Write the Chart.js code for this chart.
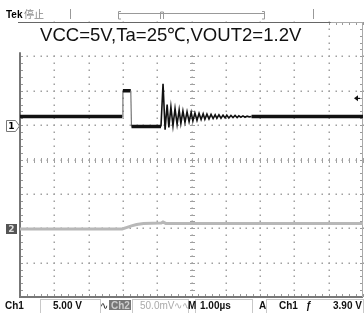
<!DOCTYPE html>
<html><head><meta charset="utf-8">
<script src="https://cdn.jsdelivr.net/npm/chart.js@4/dist/chart.umd.min.js"></script>
<style>html,body{margin:0;padding:0;background:#fff;}canvas{display:block;}</style>
</head><body>
<canvas id="c" width="364" height="313"></canvas>
<script>
// Time axis in µs (1 µs/div), vertical in screen divisions
const titleText = "VCC=5V,Ta=25\u2103,VOUT2=1.2V";
const ch1Time = [0, 2.98, 3.00, 3.23, 3.25, 4.11, 4.17, 4.23, 4.29, 4.34, 4.40, 4.46, 4.52, 4.58, 4.64, 4.69, 4.75, 4.81, 4.87, 4.93, 4.99, 5.04, 5.10, 5.16, 5.22, 5.28, 5.34, 5.39, 5.45, 5.51, 5.57, 5.63, 5.69, 5.74, 5.80, 5.86, 5.92, 5.98, 6.03, 6.09, 6.15, 6.21, 6.27, 6.33, 6.38, 6.44, 6.50, 6.56, 6.62, 6.68, 6.75, 10];
const ch1Div  = [1.25, 1.25, 2.00, 2.00, 0.96, 0.96, 2.20, 0.87, 1.60, 0.93, 1.53, 0.98, 1.48, 1.02, 1.44, 1.05, 1.41, 1.08, 1.39, 1.10, 1.37, 1.12, 1.35, 1.14, 1.34, 1.16, 1.33, 1.17, 1.32, 1.18, 1.31, 1.19, 1.30, 1.20, 1.30, 1.20, 1.29, 1.21, 1.29, 1.21, 1.28, 1.22, 1.28, 1.22, 1.27, 1.23, 1.27, 1.23, 1.26, 1.24, 1.25, 1.25];
const ch2Time = [0, 2.98, 3.10, 3.25, 3.40, 3.60, 4.12, 4.17, 4.25, 4.40, 10];
const ch2Div  = [-2.02, -2.02, -1.98, -1.93, -1.89, -1.86, -1.85, -1.82, -1.86, -1.86, -1.86];
const ch1Ground = 1;      // divisions
const ch2Ground = -2;     // divisions
const trigLevelDiv = 1.78; // 3.90 V on Ch1 (5 V/div)
const xDivs = [0,1,2,3,4,5,6,7,8,9,10];
const yDivs = [-4,-3,-2,-1,0,1,2,3,4];
const statusLabels = ["Tek", "\u505C\u6B62"];
const bottomLabels = ["Ch1", "5.00 V", "\u223F", "Ch2", "50.0mV\u223F\u223F", "M", "1.00\u00B5s", "A", "Ch1", "\u0192", "3.90 V"];

const pts = (xs, ys) => xs.map((x, i) => ({x, y: ys[i]}));

const scope = {
  id: 'scope',
  beforeDatasetsDraw(chart) {
    const ctx = chart.ctx, xs = chart.scales.x, ys = chart.scales.y, a = chart.chartArea;
    ctx.save();
    const X = v => xs.getPixelForValue(v), Y = v => ys.getPixelForValue(v);
    ctx.fillStyle = '#a0a0a0';
    for (const i of xDivs.slice(1, -1)) {
      for (let k = -40; k <= 40; k += 2) {
        ctx.fillRect(Math.round(X(i)) - 0.5, Math.round(Y(k / 10)) - 0.5, 1.5, 1.5);
      }
    }
    for (const j of yDivs.slice(1, -1)) {
      for (let k = 0; k <= 100; k += 2) {
        ctx.fillRect(Math.round(X(k / 10)) - 0.5, Math.round(Y(j)) - 0.5, 1.5, 1.5);
      }
    }
    ctx.strokeStyle = '#a0a0a0'; ctx.lineWidth = 1;
    ctx.beginPath();
    for (let k = 0; k <= 100; k += 2) {
      const px = Math.round(X(k / 10)) + 0.5, py = Math.round(Y(0));
      ctx.moveTo(px, py - 2); ctx.lineTo(px, py + 3);
    }
    for (let k = -40; k <= 40; k += 2) {
      const px = Math.round(X(5)), py = Math.round(Y(k / 10)) + 0.5;
      ctx.moveTo(px - 2, py); ctx.lineTo(px + 3, py);
    }
    ctx.stroke();
    ctx.strokeStyle = '#999';
    ctx.beginPath();
    for (let k = 0; k <= 100; k += 2) {
      const px = Math.round(X(k / 10)) + 0.5;
      ctx.moveTo(px, a.bottom); ctx.lineTo(px, a.bottom - 3);
      ctx.moveTo(px, a.top); ctx.lineTo(px, a.top + 3);
    }
    for (let k = -40; k <= 40; k += 2) {
      const py = Math.round(Y(k / 10)) + 0.5;
      ctx.moveTo(a.left, py); ctx.lineTo(a.left + 3, py);
      ctx.moveTo(a.right, py); ctx.lineTo(a.right - 3, py);
    }
    ctx.stroke();
    ctx.strokeStyle = '#777'; ctx.lineWidth = 2;
    ctx.beginPath();
    ctx.moveTo(a.left, a.top); ctx.lineTo(a.left, a.bottom);
    ctx.moveTo(a.left - 1, a.bottom); ctx.lineTo(a.right, a.bottom);
    ctx.stroke();
    ctx.strokeStyle = '#aaa'; ctx.lineWidth = 1;
    ctx.beginPath();
    ctx.moveTo(a.right - 0.5, a.top); ctx.lineTo(a.right - 0.5, a.bottom);
    ctx.moveTo(a.left, a.top + 0.5); ctx.lineTo(a.right, a.top + 0.5);
    ctx.stroke();
    ctx.fillStyle = '#fff';
    const bx = a.left - 2, by = a.top + 1;
    ctx.fillRect(bx, by, X(8.95) - bx, Y(3.12) - by);
    ctx.strokeStyle = '#666'; ctx.lineWidth = 1;
    ctx.beginPath(); ctx.moveTo(a.left - 2, a.top + 0.5); ctx.lineTo(X(9) + 2, a.top + 0.5); ctx.stroke();
    ctx.restore();
  },
  afterDraw(chart) {
    const ctx = chart.ctx, ys = chart.scales.y;
    const Y = v => ys.getPixelForValue(v);
    ctx.save();
    let fs = 17;
    ctx.font = fs + 'px "Liberation Sans", Arial, sans-serif';
    const w = ctx.measureText(titleText).width;
    fs = fs * 262 / w;
    ctx.font = fs.toFixed(2) + 'px "Liberation Sans", Arial, sans-serif';
    ctx.fillStyle = '#111'; ctx.textBaseline = 'alphabetic';
    ctx.fillText(titleText, 40, 41);
    ctx.font = 'bold 10px "Liberation Sans", Arial, sans-serif';
    ctx.fillStyle = '#000';
    ctx.fillText(statusLabels[0], 6, 18);
    ctx.fillStyle = '#888';
    ctx.font = '10px "Noto Sans CJK SC", sans-serif';
    ctx.fillText(statusLabels[1], 24, 18);
    ctx.strokeStyle = '#999'; ctx.lineWidth = 1;
    ctx.beginPath();
    ctx.moveTo(118, 13.5); ctx.lineTo(265, 13.5);
    ctx.moveTo(70.5, 9); ctx.lineTo(70.5, 19);
    ctx.moveTo(313.5, 9); ctx.lineTo(313.5, 19);
    ctx.moveTo(121, 11.5); ctx.lineTo(118.5, 11.5); ctx.lineTo(118.5, 19); ctx.lineTo(121, 19);
    ctx.moveTo(262, 11.5); ctx.lineTo(264.5, 11.5); ctx.lineTo(264.5, 19); ctx.lineTo(262, 19);
    ctx.moveTo(160.5, 19); ctx.lineTo(160.5, 12); ctx.lineTo(163.5, 12); ctx.lineTo(163.5, 19);
    ctx.stroke();
    const g1 = Math.round(Y(ch1Ground)) + 1;
    ctx.fillStyle = '#fff'; ctx.strokeStyle = '#777';
    ctx.beginPath();
    ctx.moveTo(6.5, g1 - 5.5); ctx.lineTo(15.5, g1 - 5.5); ctx.lineTo(19.5, g1); ctx.lineTo(15.5, g1 + 5.5); ctx.lineTo(6.5, g1 + 5.5); ctx.closePath();
    ctx.fill(); ctx.stroke();
    ctx.fillStyle = '#000'; ctx.font = 'bold 9px "DejaVu Sans", sans-serif'; ctx.textAlign = 'center'; ctx.textBaseline = 'middle';
    ctx.fillText('1', 11.5, g1 + 0.5);
    const g2 = Math.round(Y(ch2Ground)) + 1;
    ctx.fillStyle = '#555';
    ctx.fillRect(6, g2 - 5, 11, 10);
    ctx.fillStyle = '#ddd';
    ctx.fillText('2', 11.5, g2 + 0.5);
    const ty = Y(trigLevelDiv);
    ctx.fillStyle = '#111';
    ctx.beginPath(); ctx.moveTo(354, ty); ctx.lineTo(358, ty - 3); ctx.lineTo(358, ty + 3); ctx.closePath(); ctx.fill();
    ctx.fillRect(357, ty - 0.5, 3, 1.2);
    ctx.textAlign = 'left'; ctx.textBaseline = 'alphabetic';
    ctx.strokeStyle = '#c8c8c8'; ctx.lineWidth = 1;
    ctx.strokeRect(40.5, 299.5, 60, 14);
    ctx.strokeRect(132.5, 299.5, 56, 14);
    ctx.strokeRect(195.5, 299.5, 57, 14);
    ctx.strokeRect(266.5, 299.5, 97, 14);
    const by2 = 309;
    const bf = 'bold 10px "Liberation Sans", Arial, sans-serif';
    ctx.font = bf;
    ctx.fillStyle = '#111';
    ctx.fillText(bottomLabels[0], 5, by2);
    ctx.fillText(bottomLabels[1], 53, by2);
    ctx.font = '10px "DejaVu Sans", sans-serif';
    ctx.fillText(bottomLabels[2], 100, by2);
    ctx.font = bf;
    ctx.fillStyle = '#777'; ctx.fillRect(109, 300, 22, 10);
    ctx.fillStyle = '#ccc'; ctx.fillText(bottomLabels[3], 111, by2);
    ctx.fillStyle = '#aaa'; ctx.font = '10px "Liberation Sans", Arial, sans-serif';
    ctx.fillText(bottomLabels[4], 140, by2);
    ctx.fillStyle = '#111'; ctx.font = bf;
    ctx.fillText(bottomLabels[5], 188, by2);
    ctx.fillText(bottomLabels[6], 200, by2);
    ctx.fillText(bottomLabels[7], 259, by2);
    ctx.fillText(bottomLabels[8], 279, by2);
    ctx.fillText(bottomLabels[9], 306, by2);
    ctx.fillText(bottomLabels[10], 333, by2);
    ctx.restore();
  }
};

new Chart(document.getElementById('c'), {
  type: 'line',
  data: {
    datasets: [
      { label: 'Ch2', data: pts(ch2Time, ch2Div), borderColor: '#b8b8b8', borderWidth: 3, pointRadius: 0, tension: 0 },
      { label: 'Ch1', data: pts(ch1Time, ch1Div), borderColor: '#111', borderWidth: 3.5, pointRadius: 0, tension: 0,
        segment: {
          borderWidth: c => {
            const x0 = c.p0.parsed.x, x1 = c.p1.parsed.x;
            if (Math.abs(x1 - x0) < 0.03) return 1.2;
            if (x0 >= 4.11 && x1 <= 6.76) return 1.6;
            return 3.5;
          },
          borderColor: c => {
            const x0 = c.p0.parsed.x, x1 = c.p1.parsed.x;
            if (Math.abs(x1 - x0) < 0.03) return '#777';
            return '#111';
          }
        }
      }
    ]
  },
  options: {
    responsive: false, animation: false, devicePixelRatio: 1,
    layout: { padding: { left: 20, top: 22, right: 1, bottom: 16 } },
    plugins: { legend: { display: false }, tooltip: { enabled: false }, title: { display: false } },
    scales: {
      x: { type: 'linear', min: 0, max: 10, display: false },
      y: { type: 'linear', min: -4, max: 4, display: false }
    }
  },
  plugins: [scope]
});
</script>
</body></html>
